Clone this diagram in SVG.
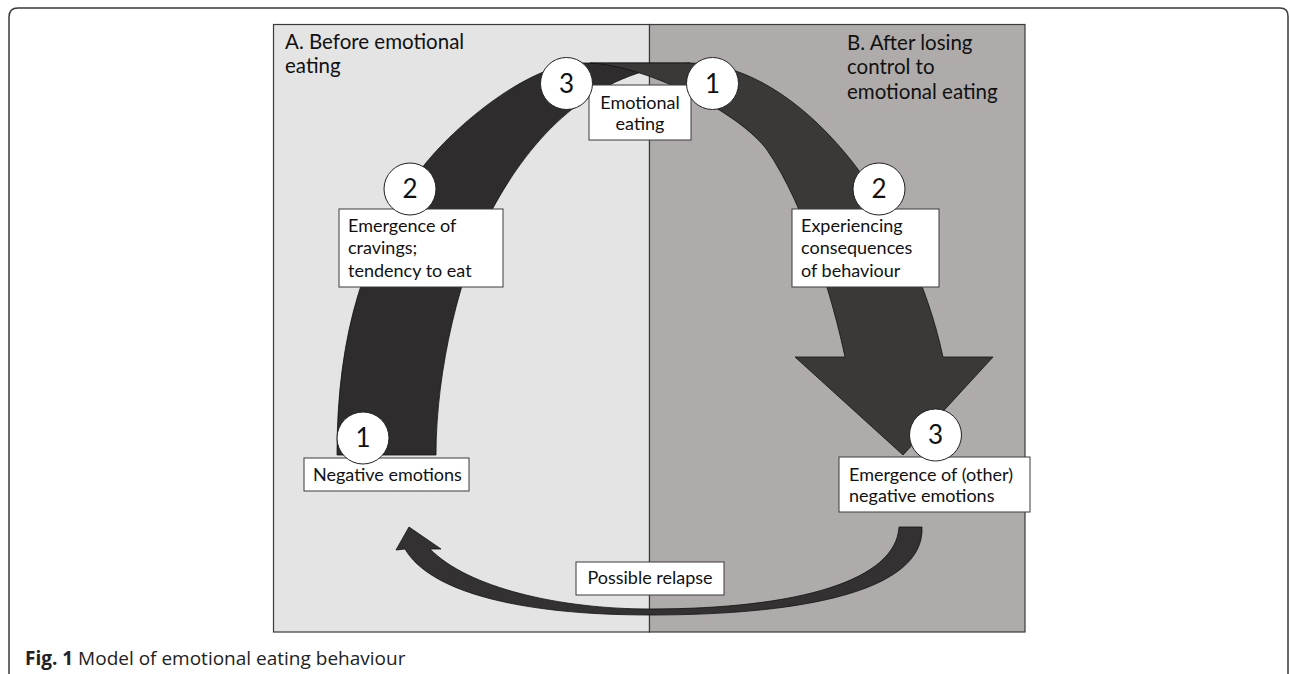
<svg xmlns="http://www.w3.org/2000/svg" width="1290" height="674" viewBox="0 0 1290 674">
<style>
.frame{fill:none;stroke:#3a3a3a;stroke-width:1.5}
.panel{stroke:#3a3a3a;stroke-width:1.2}
.band{stroke:#111;stroke-width:0.8}
.box{fill:#fff;stroke:#3a3a3a;stroke-width:1}
.num{fill:#fff;stroke:#222;stroke-width:1}
.t{font-family:Lato,"Liberation Sans",sans-serif;font-size:18px;fill:#111}
.n{font-family:Lato,"Liberation Sans",sans-serif;font-size:26px;fill:#111;text-anchor:middle}
.lbl{font-family:Lato,"Liberation Sans",sans-serif;font-size:20.5px;fill:#111}
.cap{font-family:"Open Sans","Liberation Sans",sans-serif;font-size:19px;fill:#222}
</style>
<rect width="1290" height="674" fill="#fff"/>
<path class="frame" d="M9,674 L9,17 Q9,8 18,8 L1280,8 Q1288,8 1288,16 L1288,674"/>

<g id="panel-a">
<rect class="panel" x="273.5" y="24.5" width="376" height="607.5" fill="#e4e4e4"/>
<text class="lbl" x="285" y="48.5">A. Before emotional</text>
<text class="lbl" x="285" y="72.5">eating</text>
</g>
<g id="panel-b">
<rect class="panel" x="649.5" y="24.5" width="375.5" height="607.5" fill="#aeabaa"/>
<text class="lbl" x="847" y="49.5">B. After losing</text>
<text class="lbl" x="847" y="74">control to</text>
<text class="lbl" x="847" y="98.5">emotional eating</text>
</g>

<g id="connectors">
<path id="arc-before" class="band" fill="#2e2c2c" d="M337,455 C337,330 366,245 421.7,168.3 C455,125 530,63 583,63 L690,63 C590,70 530,140 493,208 C460,270 436,370 436,455 Z"/>
<path id="arrow-after" class="band" fill="#3a3938" d="M590,63 L690,63 C800,63 911,207 943,357 L993,357 L903,455 L795,357 L845,357 C833,300 805,205 767,150 C742,115 650,66 590,63 Z"/>
<path id="arrow-relapse" class="band" fill="#333131" d="M922,527 C925,592 800,615 650,615 C520,615 430,592 405,549 L396,550 L409,527 L441,549 L430,549 C468,588 560,609 650,609 C800,609 896,580 899,527 Z"/>
</g>

<g id="a1">
<rect class="box" x="304" y="458" width="165" height="33"/>
<text class="t" x="313" y="481">Negative emotions</text>
<circle class="num" cx="363" cy="438" r="26"/>
<text class="n" x="363" y="447">1</text>
</g>
<g id="a2">
<rect class="box" x="339" y="209" width="164" height="78"/>
<text class="t" x="348" y="231.5">Emergence of</text>
<text class="t" x="348" y="254">cravings;</text>
<text class="t" x="348" y="277">tendency to eat</text>
<circle class="num" cx="410" cy="189" r="26"/>
<text class="n" x="410" y="198">2</text>
</g>
<g id="a3-b1">
<rect class="box" x="589" y="85" width="102" height="55"/>
<text class="t" x="640" y="109" text-anchor="middle">Emotional</text>
<text class="t" x="640" y="130" text-anchor="middle">eating</text>
<circle class="num" cx="566.5" cy="83.5" r="26"/>
<text class="n" x="566.5" y="92.5">3</text>
<circle class="num" cx="712.5" cy="83.5" r="26"/>
<text class="n" x="712.5" y="92.5">1</text>
</g>
<g id="b2">
<rect class="box" x="792" y="209" width="147" height="78"/>
<text class="t" x="801" y="231.5">Experiencing</text>
<text class="t" x="801" y="254">consequences</text>
<text class="t" x="801" y="277">of behaviour</text>
<circle class="num" cx="879" cy="189" r="26"/>
<text class="n" x="879" y="198">2</text>
</g>
<g id="b3">
<rect class="box" x="839" y="457" width="191" height="55"/>
<text class="t" x="849" y="481">Emergence of (other)</text>
<text class="t" x="849" y="502">negative emotions</text>
<circle class="num" cx="935.5" cy="435" r="26"/>
<text class="n" x="935.5" y="444">3</text>
</g>
<g id="relapse">
<rect class="box" x="576" y="562" width="148" height="33"/>
<text class="t" x="650" y="584" text-anchor="middle">Possible relapse</text>
</g>

<text class="cap" x="25" y="665"><tspan font-weight="bold">Fig. 1</tspan> Model of emotional eating behaviour</text>
</svg>
